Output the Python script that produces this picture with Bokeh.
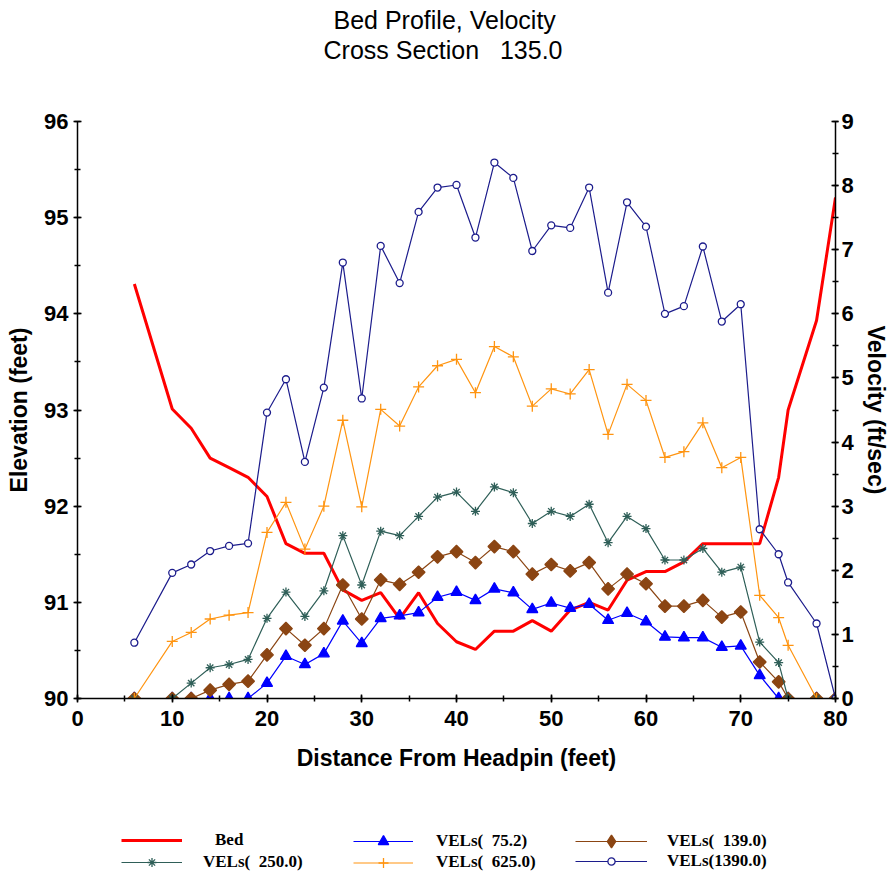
import math
from bokeh.plotting import figure
from bokeh.layouts import column
from bokeh.models import Range1d, LinearAxis, SingleIntervalTicker, Legend, LegendItem, Title
from bokeh.embed import file_html
from bokeh.resources import INLINE

# ---------------- data ----------------
distance = [6, 10, 12, 14, 16, 18, 20, 22, 24, 26, 28, 30, 32, 34, 36, 38, 40, 42, 44, 46,
            48, 50, 52, 54, 56, 58, 60, 62, 64, 66, 68, 70, 72, 74, 75, 78, 80]

bed = [94.31, 93.01, 92.81, 92.50, 92.40, 92.30, 92.10, 91.61, 91.51, 91.51, 91.13, 91.02,
       91.10, 90.83, 91.10, 90.78, 90.59, 90.51, 90.70, 90.70, 90.81, 90.70, 90.92, 91.00,
       90.92, 91.23, 91.32, 91.32, 91.42, 91.61, 91.61, 91.61, 91.61, 92.30, 93.00, 93.93, 95.21]

vel_75 = [0, 0, 0, 0, 0, 0, 0.24, 0.66, 0.53, 0.70, 1.21, 0.86, 1.25, 1.29, 1.34, 1.58, 1.66,
          1.53, 1.71, 1.65, 1.39, 1.49, 1.41, 1.47, 1.22, 1.33, 1.20, 0.96, 0.95, 0.95, 0.80,
          0.82, 0.36, 0, 0, 0, 0]

vel_139 = [0, 0, 0, 0.13, 0.22, 0.27, 0.68, 1.09, 0.83, 1.09, 1.77, 1.24, 1.85, 1.78, 1.97,
           2.21, 2.29, 2.12, 2.37, 2.29, 1.94, 2.09, 1.99, 2.12, 1.71, 1.94, 1.79, 1.44, 1.44,
           1.53, 1.27, 1.35, 0.57, 0.26, 0, 0, 0]

vel_250 = [0, 0, 0.24, 0.48, 0.53, 0.61, 1.25, 1.66, 1.28, 1.68, 2.54, 1.77, 2.61, 2.54, 2.84,
           3.14, 3.22, 2.92, 3.30, 3.21, 2.73, 2.92, 2.84, 3.03, 2.43, 2.84, 2.65, 2.16, 2.16,
           2.34, 1.97, 2.05, 0.88, 0.56, 0, 0, 0]

vel_625 = [0, 0.89, 1.03, 1.24, 1.30, 1.34, 2.59, 3.06, 2.33, 3.00, 4.34, 2.99, 4.51, 4.25,
           4.86, 5.19, 5.29, 4.77, 5.49, 5.33, 4.56, 4.83, 4.75, 5.13, 4.12, 4.90, 4.65, 3.76,
           3.85, 4.30, 3.60, 3.76, 1.61, 1.26, 0.83, 0, 0]

vel_1390 = [0.87, 1.96, 2.09, 2.30, 2.38, 2.42, 4.46, 4.98, 3.69, 4.85, 6.80, 4.68, 7.06, 6.48,
            7.59, 7.97, 8.01, 7.19, 8.36, 8.12, 6.98, 7.38, 7.34, 7.97, 6.33, 7.74, 7.36, 6.00,
            6.12, 7.05, 5.88, 6.15, 2.64, 2.25, 1.81, 1.17, 0]

labels = ["Bed", "VELs(\u00a0\u00a075.2)", "VELs(\u00a0\u00a0139.0)",
          "VELs(\u00a0\u00a0250.0)", "VELs(\u00a0\u00a0625.0)", "VELs(1390.0)"]

title_1 = "Bed Profile, Velocity"
title_2 = "Cross Section\u00a0\u00a0\u00a0135.0"

# ---------------- main figure ----------------
p = figure(width=891, height=815, output_backend="svg", toolbar_location=None, title=None,
           x_range=Range1d(0, 80), y_range=Range1d(90, 96),
           min_border_left=77, min_border_right=40, min_border_top=121, min_border_bottom=117)
p.extra_y_ranges = {"vel": Range1d(0, 9)}
p.xgrid.visible = False
p.ygrid.visible = False
p.outline_line_color = None
p.background_fill_color = "white"
p.border_fill_color = "white"

def make_title(text, standoff, offset):
    return Title(text=text, align="left", offset=offset, text_font="Liberation Sans",
                 text_font_size="25px", text_font_style="normal", text_color="black",
                 standoff=standoff, vertical_align="bottom")

# stacked outward from the frame: spacer, second line, first line
p.add_layout(make_title(" ", 28, 0), "above")
p.add_layout(make_title(title_2, 0, 246), "above")
p.add_layout(make_title(title_1, 0, 256), "above")

def style_axis(ax, tick_out, standoff_lbl, standoff_axis):
    ax.axis_line_width = 1.5
    ax.axis_line_color = "black"
    ax.major_tick_line_width = 1.5
    ax.minor_tick_line_width = 1.5
    ax.major_tick_line_color = "black"
    ax.minor_tick_line_color = "black"
    ax.major_tick_in = 4
    ax.major_tick_out = tick_out
    ax.minor_tick_in = 3
    ax.minor_tick_out = min(3, tick_out)
    ax.major_label_text_font = "Liberation Sans"
    ax.major_label_text_font_style = "bold"
    ax.major_label_text_font_size = "22px"
    ax.major_label_text_color = "black"
    ax.major_label_standoff = standoff_lbl
    ax.axis_label_text_font = "Liberation Sans"
    ax.axis_label_text_font_style = "bold"
    ax.axis_label_text_font_size = "23px"
    ax.axis_label_text_color = "black"
    ax.axis_label_standoff = standoff_axis

xax = p.xaxis[0]
xax.ticker = SingleIntervalTicker(interval=10, num_minor_ticks=2)
xax.axis_label = "Distance From Headpin (feet)"
style_axis(xax, 4, 8, 16)

yax = p.yaxis[0]
yax.ticker = SingleIntervalTicker(interval=1, num_minor_ticks=2)
yax.axis_label = "Elevation (feet)"
style_axis(yax, 4, 5, 9)

rax = LinearAxis(y_range_name="vel", ticker=SingleIntervalTicker(interval=1, num_minor_ticks=2),
                 axis_label="Velocity (ft/sec)")
style_axis(rax, 3, 3, 6)
p.add_layout(rax, "right")

# ---------------- series ----------------
styles = [
    # line colour, marker, marker size, fill colour, line width, marker angle
    ("#FF0000", None, 0, None, 3, 0),
    ("#0000FF", "triangle", 11, "#0000FF", 1.2, 0),
    ("#8B4513", "square", 9, "#8B4513", 1.2, math.pi / 4),
    ("#2F5F58", "asterisk", 9, None, 1.2, 0),
    ("#FF9410", "cross", 11, None, 1.2, 0),
    ("#1C1C8C", "circle", 7, "white", 1.2, 0),
]
# marker used for the legend samples (unrotated)
legend_markers = [None, "triangle", "diamond", "asterisk", "cross", "circle"]
values = [bed, vel_75, vel_139, vel_250, vel_625, vel_1390]

for i, (vals, (lc, mk, sz, fc, lw, ang)) in enumerate(zip(values, styles)):
    if i == 0:
        p.line(distance, vals, line_color=lc, line_width=lw)
    else:
        p.line(distance, vals, line_color=lc, line_width=lw, y_range_name="vel")
        p.scatter(distance, vals, marker=mk, size=sz, angle=ang, line_color=lc, fill_color=fc,
                  line_width=1.3, y_range_name="vel")

# ---------------- legend strip (3 columns x 2 rows) ----------------
# the strip's ranges are set away from the data so only the legend samples show
strip_h = 60
pl = figure(width=891, height=strip_h, output_backend="svg", toolbar_location=None, title=None,
            x_range=Range1d(1000, 1001), y_range=Range1d(1000, 1001), min_border=0,
            x_axis_location=None, y_axis_location=None)
pl.outline_line_color = None
pl.background_fill_color = "white"
pl.border_fill_color = "white"
for g in pl.grid:
    g.visible = False

leg_renderers = []
for vals, (lc, mk, sz, fc, lw, ang), lmk in zip(values, styles, legend_markers):
    rs = [pl.line(distance, vals, line_color=lc, line_width=lw)]
    if lmk is not None:
        rs.append(pl.scatter(distance, vals, marker=lmk, size=sz, line_color=lc,
                             fill_color=fc, line_width=1.3))
    leg_renderers.append(rs)

# (series index, glyph left from frame, row centre in strip, glyph width, glyph height, label standoff)
legend_layout = [
    (0, 44, 26, 61, 18, 33),
    (1, 276, 26, 60, 26, 23),
    (2, 498, 26, 72, 32, 20),
    (3, 44, 47, 61, 22, 21),
    (4, 276, 47, 60, 25, 23),
    (5, 498, 47, 72, 18, 20),
]
for idx, lx, cy, gw, gh, ls in legend_layout:
    leg = Legend(items=[LegendItem(label=labels[idx], renderers=leg_renderers[idx], index=0)],
                 location=(lx, strip_h - cy - gh / 2), padding=0, margin=0, spacing=0,
                 border_line_color=None, background_fill_alpha=0,
                 glyph_width=gw, glyph_height=gh, label_height=gh, label_standoff=ls,
                 label_text_font="Liberation Serif", label_text_font_style="bold",
                 label_text_font_size="17px", label_text_color="black")
    pl.add_layout(leg, "center")

layout = column(p, pl, spacing=0)
open("out.html", "w").write(file_html(layout, INLINE))
